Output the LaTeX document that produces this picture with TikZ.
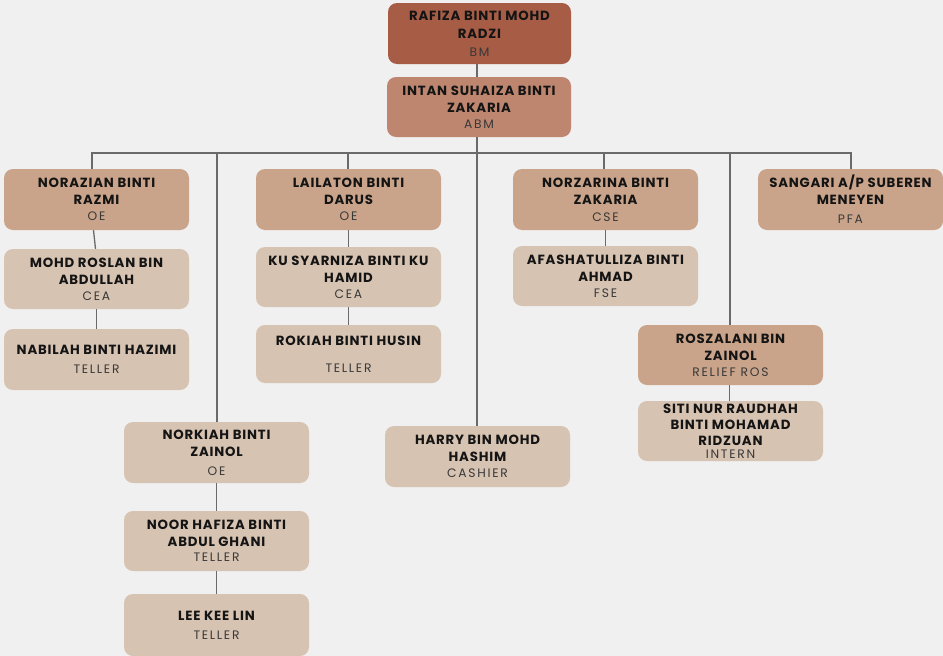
\documentclass[tikz,border=0pt]{standalone}
\usepackage{fontspec}
\setmainfont{Poppins}
\newfontfamily\namefam{Poppins}[LetterSpace=6]
\newfontfamily\rolefam{Poppins}[LetterSpace=14]
\definecolor{bg}{HTML}{F0F0F0}
\definecolor{cbm}{HTML}{A65C45}
\definecolor{cabm}{HTML}{BE866F}
\definecolor{cmid}{HTML}{C9A48A}
\definecolor{clt}{HTML}{D7C3B2}
\definecolor{lnc}{HTML}{6A6A6A}
\definecolor{nmc}{HTML}{141414}
\definecolor{rlc}{HTML}{383838}
\newcommand\Nm{\namefam\bfseries\fontsize{13.3}{17}\selectfont\color{nmc}}
\newcommand\Rl{\rolefam\fontsize{12.3}{17}\selectfont\color{rlc}}
\tikzset{
  card/.style={rectangle, rounded corners=9pt, minimum width=185pt, minimum height=61pt,
    inner sep=0pt, align=center, font=\fontsize{13.3}{17}\selectfont},
  cbmbox/.style={card, fill=cbm},
  cabmbox/.style={card, fill=cabm},
  midbox/.style={card, fill=cmid},
  ltbox/.style={card, fill=clt},
  link/.style={draw=lnc, line width=1.3pt}
}
\begin{document}
\begin{tikzpicture}[x=1pt,y=-1pt]
\fill[bg] (0,0) rectangle (943,656);
\useasboundingbox (0,0) rectangle (943,656);

\node[cbmbox, minimum width=183pt] (bm) at (479.5,33.5) {\Nm RAFIZA BINTI MOHD\\[1pt]\Nm RADZI\\[1pt]\Rl BM};
\node[cabmbox, minimum width=184pt, minimum height=60pt] (abm) at (479,107) {\Nm INTAN SUHAIZA BINTI\\\Nm ZAKARIA\\[-1pt]\Rl ABM};

\node[midbox] (noraz) at (96.5,199.5) {\Nm NORAZIAN BINTI\\\Nm RAZMI\\[-1pt]\Rl OE};
\node[ltbox, minimum height=60pt] (roslan) at (96.5,279) {\Nm MOHD ROSLAN BIN\\\Nm ABDULLAH\\[-1pt]\Rl CEA};
\node[ltbox] (nabilah) at (96.5,359.5) {\Nm NABILAH BINTI HAZIMI\\[2pt]\Rl TELLER};

\node[midbox] (lail) at (348.5,199.5) {\Nm LAILATON BINTI\\\Nm DARUS\\[-1pt]\Rl OE};
\node[ltbox, minimum height=60pt] (ku) at (348.5,277) {\Nm KU SYARNIZA BINTI KU\\\Nm HAMID\\[-1pt]\Rl CEA};
\node[ltbox, minimum height=58pt] (rokiah) at (348.5,354) {\Nm ROKIAH BINTI HUSIN\\[10pt]\Rl TELLER};

\node[midbox] (norz) at (605.5,199.5) {\Nm NORZARINA BINTI\\\Nm ZAKARIA\\\Rl CSE};
\node[ltbox, minimum height=60pt] (afa) at (605.5,276) {\Nm AFASHATULLIZA BINTI\\\Nm AHMAD\\[-1pt]\Rl FSE};

\node[midbox] (sang) at (850.5,199.5) {\Nm SANGARI A/P SUBEREN\\\Nm MENEYEN\\[2pt]\Rl PFA};

\node[midbox, minimum height=60pt] (rosz) at (730.5,355) {\Nm ROSZALANI BIN\\\Nm ZAINOL\\[-1pt]\Rl RELIEF ROS};
\node[ltbox, minimum height=60pt] (siti) at (730.5,431) {\Nm SITI NUR RAUDHAH\\[-1pt]\Nm BINTI MOHAMAD\\[-1pt]\Nm RIDZUAN\\[-4pt]\Rl INTERN};

\node[ltbox] (nork) at (216.5,452.5) {\Nm NORKIAH BINTI\\\Nm ZAINOL\\[2pt]\Rl OE};
\node[ltbox, minimum height=60pt] (noor) at (216.5,541) {\Nm NOOR HAFIZA BINTI\\\Nm ABDUL GHANI\\[-2pt]\Rl TELLER};
\node[ltbox, minimum height=62pt] (lee) at (216.5,625) {\Nm LEE KEE LIN\\[2pt]\Rl TELLER};

\node[ltbox] (harry) at (477.5,456.5) {\Nm HARRY BIN MOHD\\\Nm HASHIM\\[-1pt]\Rl CASHIER};

% bus
\coordinate (b1) at (92,153);
\coordinate (b2) at (217,153);
\coordinate (b3) at (348,153);
\coordinate (b4) at (477,153);
\coordinate (b5) at (604,153);
\coordinate (b6) at (730,153);
\coordinate (b7) at (851,153);

\draw[link] (b1 |- noraz.north) -- (b1) -- (b7) -- (b7 |- sang.north);
\draw[link] (b4 |- abm.south) -- (b4 |- harry.north);
\draw[link] (b2) -- (b2 |- nork.north);
\draw[link] (b3) -- (b3 |- lail.north);
\draw[link] (b5) -- (b5 |- norz.north);
\draw[link] (b6) -- (b6 |- rosz.north);

\draw[link] (b4 |- bm.south) -- (b4 |- abm.north);
\draw[link] ([xshift=-3pt]noraz.south) -- ([xshift=-1pt]roslan.north);
\draw[link] (roslan.south) -- (nabilah.north);
\draw[link] (lail.south) -- (ku.north);
\draw[link] (ku.south) -- (rokiah.north);
\draw[link] (norz.south) -- (afa.north);
\draw[link] ([xshift=-1pt]rosz.south) -- ([xshift=-1pt]siti.north);
\draw[link] (nork.south) -- (noor.north);
\draw[link] (noor.south) -- (lee.north);
\end{tikzpicture}
\end{document}
